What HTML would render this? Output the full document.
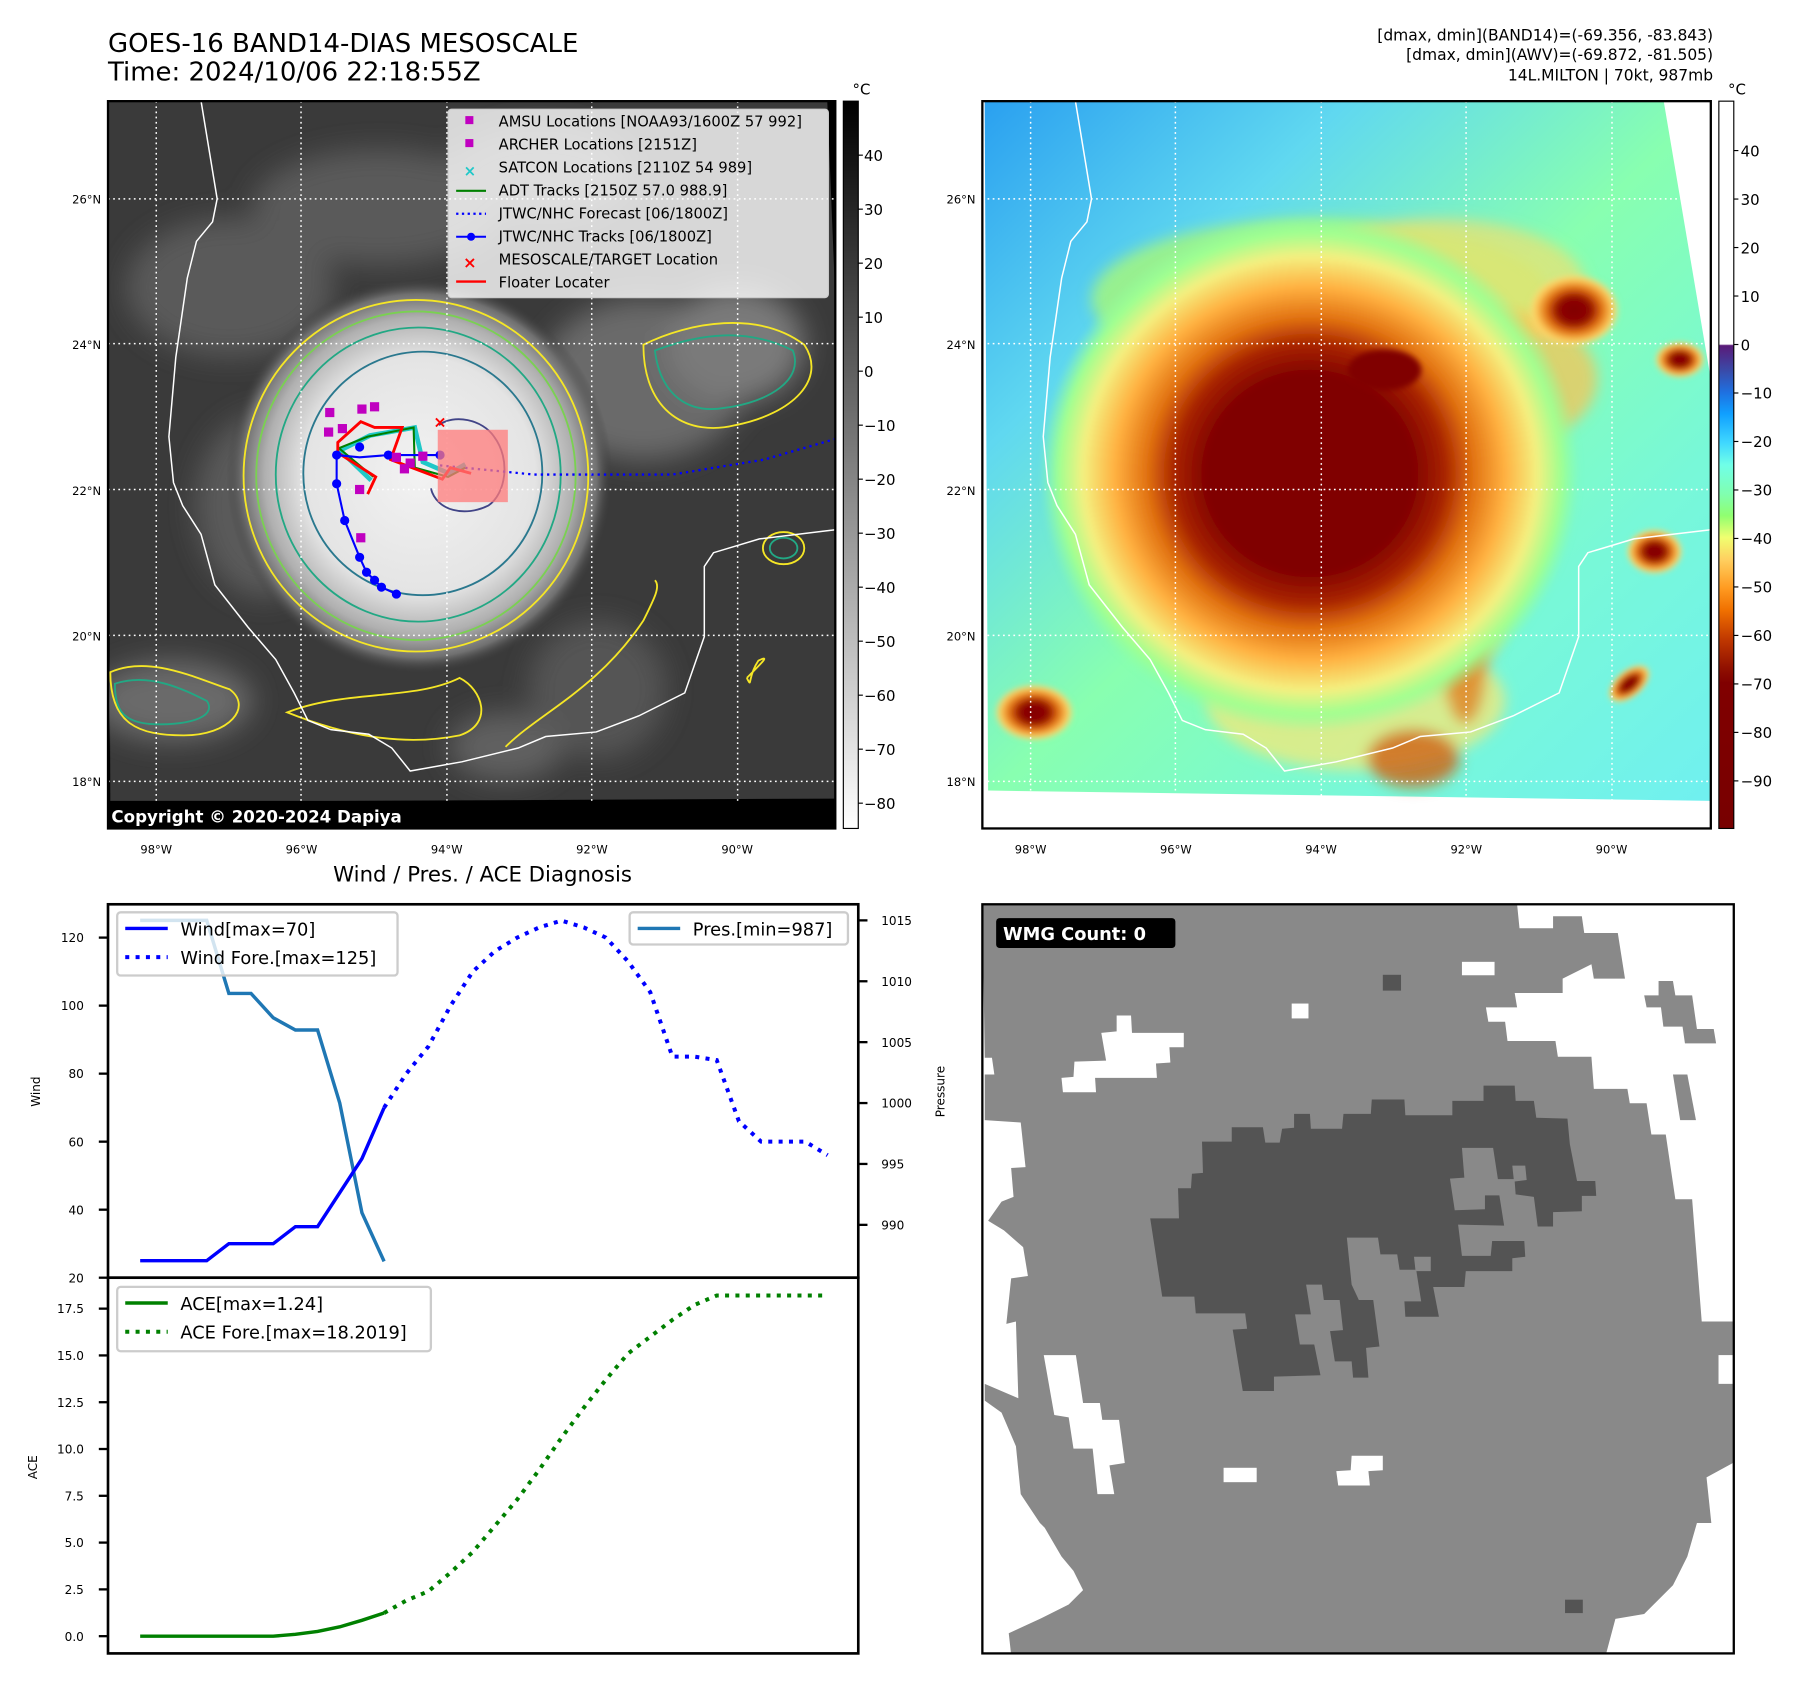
<!DOCTYPE html>
<html><head><meta charset="utf-8"><title>GOES-16 BAND14 DIAS Mesoscale</title>
<style>
html,body{margin:0;padding:0;background:#fff;}
svg{display:block;font-family:"DejaVu Sans","Liberation Sans",sans-serif;}
</style></head>
<body>
<svg id="root" width="1801" height="1690" viewBox="0 0 1567.5 1470.8" xmlns="http://www.w3.org/2000/svg">
<defs>
  <filter id="blur6" x="-20%" y="-20%" width="140%" height="140%"><feGaussianBlur stdDeviation="6"/></filter>
  <filter id="blur12" x="-30%" y="-30%" width="160%" height="160%"><feGaussianBlur stdDeviation="12"/></filter>
  <filter id="blur3"><feGaussianBlur stdDeviation="2.5"/></filter>
  <radialGradient id="stormGray" cx="0.5" cy="0.5" r="0.5">
    <stop offset="0" stop-color="#f2f2f2"/><stop offset="0.6" stop-color="#e4e4e4"/>
    <stop offset="0.8" stop-color="#b0b0b0"/><stop offset="0.92" stop-color="#707070"/>
    <stop offset="1" stop-color="#3c3c3c" stop-opacity="0"/>
  </radialGradient>
  <radialGradient id="stormColor" cx="0.5" cy="0.5" r="0.5">
    <stop offset="0" stop-color="#800000"/><stop offset="0.38" stop-color="#800000"/>
    <stop offset="0.5" stop-color="#a82400"/><stop offset="0.6" stop-color="#e07010"/>
    <stop offset="0.72" stop-color="#ffb040"/><stop offset="0.84" stop-color="#f4f080"/>
    <stop offset="0.93" stop-color="#a0ff90"/><stop offset="1" stop-color="#90ffa0" stop-opacity="0"/>
  </radialGradient>
  <radialGradient id="blobColor" cx="0.5" cy="0.5" r="0.5">
    <stop offset="0" stop-color="#800000"/><stop offset="0.35" stop-color="#900800"/>
    <stop offset="0.6" stop-color="#e07010"/><stop offset="0.85" stop-color="#ffd060"/>
    <stop offset="1" stop-color="#ffe080" stop-opacity="0"/>
  </radialGradient>
  <linearGradient id="bgColor" x1="0" y1="0" x2="1" y2="1">
    <stop offset="0" stop-color="#2aa0f0"/><stop offset="0.25" stop-color="#60d8f0"/>
    <stop offset="0.5" stop-color="#88ffb0"/><stop offset="0.75" stop-color="#78f8d8"/>
    <stop offset="1" stop-color="#70f0f0"/>
  </linearGradient>
  <linearGradient id="cbGray" x1="0" y1="0" x2="0" y2="1">
    <stop offset="0" stop-color="#000"/><stop offset="1" stop-color="#fff"/>
  </linearGradient>
  <linearGradient id="cbColor" x1="0" y1="0" x2="0" y2="1">
    <stop offset="0" stop-color="#fff"/><stop offset="0.334" stop-color="#fff"/>
    <stop offset="0.336" stop-color="#5a1a78"/><stop offset="0.37" stop-color="#3a4aa8"/>
    <stop offset="0.40" stop-color="#1f70e0"/><stop offset="0.43" stop-color="#10a0ff"/>
    <stop offset="0.47" stop-color="#40d8ff"/><stop offset="0.5" stop-color="#70ffe8"/>
    <stop offset="0.54" stop-color="#80ffb0"/><stop offset="0.57" stop-color="#90ff70"/>
    <stop offset="0.6" stop-color="#f0ff70"/><stop offset="0.63" stop-color="#ffd060"/>
    <stop offset="0.67" stop-color="#ff9a20"/><stop offset="0.7" stop-color="#f07000"/>
    <stop offset="0.74" stop-color="#c03800"/><stop offset="0.78" stop-color="#901000"/>
    <stop offset="0.8" stop-color="#800000"/><stop offset="1" stop-color="#780000"/>
  </linearGradient>
  <clipPath id="clipL"><rect x="94" y="88" width="633" height="633"/></clipPath>
  <clipPath id="clipR"><rect x="855" y="88" width="634" height="633"/></clipPath>
  <clipPath id="clipW"><rect x="855" y="787" width="654" height="652"/></clipPath>
</defs>

<!-- Titles -->
<text x="94" y="45" font-size="22.6">GOES-16 BAND14-DIAS MESOSCALE</text>
<text x="94" y="70" font-size="22.6">Time: 2024/10/06 22:18:55Z</text>
<g font-size="13.5" text-anchor="end">
  <text x="1491" y="35">[dmax, dmin](BAND14)=(-69.356, -83.843)</text>
  <text x="1491" y="52">[dmax, dmin](AWV)=(-69.872, -81.505)</text>
  <text x="1491" y="70">14L.MILTON | 70kt, 987mb</text>
</g>

<!-- LEFT MAP -->
<g clip-path="url(#clipL)">
  <rect x="94" y="88" width="633" height="633" fill="#000"/>
  <polygon points="94,88 720,88 727,260 727,695 96,698" fill="#3a3a3a"/>
  <g filter="url(#blur12)" fill="#5a5a5a">
    <ellipse cx="200" cy="250" rx="90" ry="60"/><ellipse cx="330" cy="180" rx="110" ry="50"/>
    <ellipse cx="560" cy="330" rx="90" ry="70" fill="#6a6a6a"/><ellipse cx="640" cy="300" rx="60" ry="50" fill="#7a7a7a"/>
    <ellipse cx="150" cy="610" rx="70" ry="35" fill="#6a6a6a"/><ellipse cx="520" cy="600" rx="60" ry="60" fill="#555"/>
    <ellipse cx="470" cy="150" rx="80" ry="40"/><ellipse cx="230" cy="440" rx="60" ry="80"/>
    <ellipse cx="440" cy="650" rx="50" ry="30" fill="#606060"/>
  </g>
  <ellipse cx="365" cy="414" rx="168" ry="172" fill="url(#stormGray)"/>
  <!-- contours -->
  <g fill="none" stroke-width="1.6">
    <ellipse cx="362" cy="414" rx="150" ry="153" stroke="#f5e626"/>
    <ellipse cx="362" cy="414" rx="139" ry="143" stroke="#7ad151"/>
    <ellipse cx="364" cy="413" rx="124" ry="128" stroke="#22a884"/>
    <ellipse cx="368" cy="412" rx="104" ry="106" stroke="#2a788e"/>
    <path d="M382,370 C395,360 420,365 430,380 C445,400 440,430 425,440 C405,450 380,445 375,425" stroke="#414487"/>
    <path d="M560,300 C600,280 660,270 700,300 C720,330 690,360 640,370 C600,380 560,360 560,300Z" stroke="#f5e626"/>
    <path d="M570,305 C610,290 650,285 690,305 C700,330 670,350 630,355 C600,360 575,345 570,305Z" stroke="#22a884"/>
    <path d="M96,585 C130,570 170,590 200,600 C220,615 200,640 160,640 C120,640 96,630 96,585Z" stroke="#f5e626"/>
    <path d="M100,595 C130,585 160,600 180,610 C190,625 160,632 130,630 C105,628 100,615 100,595Z" stroke="#22a884"/>
    <ellipse cx="682" cy="477" rx="18" ry="14" stroke="#f5e626"/>
    <ellipse cx="682" cy="477" rx="12" ry="9" stroke="#22a884"/>
    <path d="M440,650 C470,620 520,600 560,540 C570,520 575,510 570,505" stroke="#f5e626"/>
    <path d="M650,590 C665,575 670,570 660,575 C650,590 655,600 650,590" stroke="#f5e626"/>
    <path d="M250,620 C300,600 360,610 400,590 C420,600 430,630 400,640 C350,650 300,640 250,620Z" stroke="#f5e626"/>
  </g>
  <!-- grid -->
  <g stroke="#fff" stroke-width="1.3" stroke-dasharray="1.5 3">
    <line x1="136" y1="88" x2="136" y2="721"/><line x1="262" y1="88" x2="262" y2="721"/>
    <line x1="389" y1="88" x2="389" y2="721"/><line x1="515" y1="88" x2="515" y2="721"/>
    <line x1="642" y1="88" x2="642" y2="721"/>
    <line x1="94" y1="173" x2="727" y2="173"/><line x1="94" y1="299" x2="727" y2="299"/>
    <line x1="94" y1="426" x2="727" y2="426"/><line x1="94" y1="553" x2="727" y2="553"/>
    <line x1="94" y1="680" x2="727" y2="680"/>
  </g>
  <polyline fill="none" stroke="#fff" stroke-width="1.3" points="175,88 189,173 185,193 171,210 163,242 153,311 147,380 151,420 159,440 175,465 187,509 216,546 240,574 256,603 268,627 288,635 321,639 341,651 357,671 402,663 451,651 475,641 519,637 556,623 596,603 613,554 613,493 621,481 661,469 727,461"/>
  <!-- tracks -->
  <polyline fill="none" stroke="#0000ff" stroke-width="2" stroke-dasharray="2 3.5" points="383,405 465,413 585,413 665,400 727,382"/>
  <polyline fill="none" stroke="#20c8c8" stroke-width="4" points="323,418 296,392 322,379 361,372 368,402 391,412 405,404"/>
  <polyline fill="none" stroke="#008000" stroke-width="1.8" points="325,415 295,390 320,380 360,372 361,407 390,415 405,407"/>
  <polyline fill="none" stroke="#ff0000" stroke-width="2.5" points="320,430 327,415 294,394 294,385 314,367 326,372 350,372 340,400 385,417 392,407 410,412"/>
  <g fill="#0000ff" stroke="#0000ff">
    <polyline fill="none" stroke-width="1.8" points="345,517 332,511 326,505 319,498 313,485 300,453 293,421 293,396 313,398 338,396 383,396"/>
    <circle cx="345" cy="517" r="3.5"/><circle cx="332" cy="511" r="3.5"/><circle cx="326" cy="505" r="3.5"/>
    <circle cx="319" cy="498" r="3.5"/><circle cx="313" cy="485" r="3.5"/><circle cx="300" cy="453" r="3.5"/>
    <circle cx="293" cy="421" r="3.5"/><circle cx="293" cy="396" r="3.5"/><circle cx="313" cy="389" r="3.5"/>
    <circle cx="338" cy="396" r="3.5"/><circle cx="383" cy="396" r="3.5"/>
  </g>
  <g fill="#c000c0">
    <rect x="283" y="355" width="8" height="8"/><rect x="282" y="372" width="8" height="8"/>
    <rect x="294" y="369" width="8" height="8"/><rect x="311" y="352" width="8" height="8"/>
    <rect x="322" y="350" width="8" height="8"/><rect x="309" y="422" width="8" height="8"/>
    <rect x="310" y="464" width="8" height="8"/><rect x="348" y="404" width="8" height="8"/>
    <rect x="353" y="399" width="8" height="8"/><rect x="364" y="393" width="8" height="8"/>
    <rect x="341" y="394" width="8" height="8"/>
  </g>
  <rect x="381" y="374" width="61" height="63" fill="#ff7b7b" fill-opacity="0.75"/>
  <text x="383" y="372" font-size="14" fill="#ff0000" text-anchor="middle" font-weight="bold">×</text>
  <!-- legend -->
  <g>
    <rect x="390" y="95" width="331" height="164" rx="3" fill="#fff" fill-opacity="0.8" stroke="#ccc"/>
    <g font-size="12.8">
      <rect x="405" y="101" width="7" height="7" fill="#c000c0"/><text x="434" y="110">AMSU Locations [NOAA93/1600Z 57 992]</text>
      <rect x="405" y="121" width="7" height="7" fill="#c000c0"/><text x="434" y="130">ARCHER Locations [2151Z]</text>
      <text x="409" y="153" fill="#20c8c8" font-size="13" font-weight="bold" text-anchor="middle">×</text><text x="434" y="150">SATCON Locations [2110Z 54 989]</text>
      <line x1="397" y1="166" x2="423" y2="166" stroke="#008000" stroke-width="1.8"/><text x="434" y="170">ADT Tracks [2150Z 57.0 988.9]</text>
      <line x1="397" y1="186" x2="423" y2="186" stroke="#0000ff" stroke-width="2" stroke-dasharray="2 3"/><text x="434" y="190">JTWC/NHC Forecast [06/1800Z]</text>
      <line x1="397" y1="206" x2="423" y2="206" stroke="#0000ff" stroke-width="1.8"/><circle cx="410" cy="206" r="3.5" fill="#0000ff"/><text x="434" y="210">JTWC/NHC Tracks [06/1800Z]</text>
      <text x="409" y="233" fill="#ff0000" font-size="14" font-weight="bold" text-anchor="middle">×</text><text x="434" y="230">MESOSCALE/TARGET Location</text>
      <line x1="397" y1="245" x2="423" y2="245" stroke="#ff0000" stroke-width="2"/><text x="434" y="250">Floater Locater</text>
    </g>
  </g>
  <rect x="94" y="697" width="633" height="24" fill="#000"/>
  <text x="97" y="716" font-size="14.5" font-weight="bold" fill="#fff">Copyright © 2020-2024 Dapiya</text>
</g>
<rect x="94" y="88" width="633" height="633" fill="none" stroke="#000" stroke-width="2"/>

<!-- left colorbar -->
<g>
  <rect x="734" y="88" width="13" height="633" fill="url(#cbGray)" stroke="#000" stroke-width="1"/>
  <text x="742" y="82" font-size="13">°C</text>
  <g id="cbLticks" font-size="13"></g>
</g>

<!-- RIGHT MAP -->
<g clip-path="url(#clipR)">
  <rect x="855" y="88" width="634" height="633" fill="#fff"/>
  <polygon points="857,88 1448,88 1489,330 1489,697 860,688" fill="url(#bgColor)"/>
  <g filter="url(#blur6)">
    <ellipse cx="1150" cy="260" rx="200" ry="70" fill="#a8f878" opacity="0.8"/>
    <ellipse cx="1250" cy="250" rx="130" ry="60" fill="#f0e070" opacity="0.7"/>
    <ellipse cx="1300" cy="330" rx="90" ry="60" fill="#ffc050" opacity="0.7"/>
    <ellipse cx="1180" cy="610" rx="130" ry="60" fill="#f6e878" opacity="0.75"/>
    <ellipse cx="1260" cy="520" rx="50" ry="80" fill="#f0c060" opacity="0.7"/>
    <ellipse cx="1230" cy="660" rx="40" ry="25" fill="#d06010" opacity="0.8"/>
    <ellipse cx="1275" cy="580" rx="18" ry="50" fill="#e08020" opacity="0.8"/>
  </g>
  <ellipse cx="1140" cy="412" rx="235" ry="225" fill="url(#stormColor)" filter="url(#blur3)"/>
  <g filter="url(#blur3)">
    <ellipse cx="1370" cy="270" rx="40" ry="32" fill="url(#blobColor)"/>
    <ellipse cx="1462" cy="313" rx="22" ry="16" fill="url(#blobColor)"/>
    <ellipse cx="1440" cy="480" rx="25" ry="20" fill="url(#blobColor)"/>
    <ellipse cx="900" cy="620" rx="35" ry="25" fill="url(#blobColor)"/>
    <ellipse cx="1418" cy="595" rx="22" ry="12" fill="url(#blobColor)" transform="rotate(-40 1418 595)"/>
    <ellipse cx="1205" cy="322" rx="32" ry="18" fill="#800000"/>
  </g>
  <g stroke="#fff" stroke-width="1.3" stroke-dasharray="1.5 3">
    <line x1="897" y1="88" x2="897" y2="721"/><line x1="1023" y1="88" x2="1023" y2="721"/>
    <line x1="1150" y1="88" x2="1150" y2="721"/><line x1="1276" y1="88" x2="1276" y2="721"/>
    <line x1="1403" y1="88" x2="1403" y2="721"/>
    <line x1="855" y1="173" x2="1489" y2="173"/><line x1="855" y1="299" x2="1489" y2="299"/>
    <line x1="855" y1="426" x2="1489" y2="426"/><line x1="855" y1="553" x2="1489" y2="553"/>
    <line x1="855" y1="680" x2="1489" y2="680"/>
  </g>
  <polyline fill="none" stroke="#fff" stroke-width="1.3" points="936,88 950,173 946,193 932,210 924,242 914,311 908,380 912,420 920,440 936,465 948,509 977,546 1001,574 1017,603 1029,627 1049,635 1082,639 1102,651 1118,671 1163,663 1212,651 1236,641 1280,637 1317,623 1357,603 1374,554 1374,493 1382,481 1422,469 1489,461"/>
</g>
<rect x="855" y="88" width="634" height="633" fill="none" stroke="#000" stroke-width="2"/>
<g>
  <rect x="1496" y="88" width="13" height="633" fill="url(#cbColor)" stroke="#000" stroke-width="1"/>
  <text x="1504" y="82" font-size="13">°C</text>
  <g id="cbRticks" font-size="13"></g>
</g>
<g id="mapLabels" font-size="10.5"></g>

<!-- WMG -->
<g clip-path="url(#clipW)">
  <rect x="855" y="787" width="654" height="652" fill="#fff"/>
  <g transform="translate(855,787) scale(0.4174)">
    <polygon fill="#898989" points="0,0 1115,0 1120,50 1190,50 1190,25 1250,25 1255,60 1325,60 1340,155 1275,155 1270,125 1210,155 1210,185 1110,185 1115,215 1050,215 1055,245 1090,245 1095,285 1195,285 1200,318 1270,318 1275,385 1345,385 1350,415 1385,415 1395,480 1425,480 1445,615 1480,615 1500,870 1565,870 1565,1165 1510,1195 1520,1290 1490,1290 1470,1360 1440,1420 1410,1450 1380,1480 1320,1490 1300,1565 60,1565 55,1520 120,1490 180,1460 210,1430 190,1390 165,1360 130,1300 120,1290 80,1230 70,1130 40,1060 5,1035 5,1000 75,1030 70,870 50,875 60,780 95,775 85,715 45,680 12,660 40,620 65,610 60,550 90,548 80,455 5,450 5,355 25,355 20,320 5,320 0,0"/>
    <polygon fill="#898989" points="1380,190 1410,190 1410,160 1440,160 1445,190 1480,190 1490,260 1525,260 1530,290 1465,290 1460,255 1420,255 1415,215 1385,215"/>
    <polygon fill="#898989" points="1440,355 1470,355 1488,450 1455,450"/>
    <g fill="#fff">
      <rect x="1000" y="120" width="68" height="28"/><rect x="645" y="207" width="35" height="31"/>
      <polygon points="280,232 310,232 312,268 420,268 420,298 390,298 392,330 362,332 364,362 235,362 237,392 168,392 165,362 190,360 192,328 258,326 248,268 280,265"/>
      <polygon points="128,940 195,940 210,1040 245,1040 250,1075 285,1075 297,1165 265,1170 275,1230 240,1230 230,1135 190,1135 180,1070 150,1065"/>
      <rect x="503" y="1175" width="69" height="30"/>
      <polygon points="770,1150 835,1150 835,1180 805,1182 808,1212 742,1212 738,1182 768,1180"/>
      <rect x="1535" y="940" width="30" height="60"/>
    </g>
    <polygon fill="#545454" points="350,655 410,655 408,592 435,592 437,562 460,560 458,495 520,495 520,465 585,465 590,497 620,497 625,468 650,466 650,437 683,437 685,468 750,468 753,437 810,437 812,407 880,407 882,440 980,440 980,410 1045,410 1045,378 1110,378 1112,410 1150,410 1155,445 1220,447 1225,500 1240,577 1278,577 1280,608 1250,608 1250,640 1190,642 1190,672 1158,672 1150,610 1112,605 1110,578 1135,575 1132,545 1105,545 1108,573 1075,573 1065,508 1000,508 1005,570 975,572 985,638 1048,636 1048,607 1078,607 1088,670 992,668 1000,733 1060,733 1063,702 1130,702 1132,735 1105,738 1105,765 1008,765 1005,798 940,798 952,860 882,860 880,828 915,828 905,765 935,765 935,735 900,735 903,762 870,762 865,730 830,730 825,695 760,695 770,793 785,825 815,825 828,922 800,925 805,987 773,987 770,953 735,953 725,890 752,888 745,825 712,825 708,793 675,793 685,855 652,855 662,918 692,918 705,982 608,985 608,1015 543,1015 522,887 552,885 548,853 445,853 442,818 375,818"/>
    <rect x="835" y="147" width="38" height="33" fill="#545454"/>
    <rect x="1215" y="1450" width="37" height="28" fill="#545454"/>
  </g>
  <rect x="867" y="799" width="156" height="26" rx="3" fill="#000"/>
  <text x="873" y="818" font-size="15.5" font-weight="bold" fill="#fff">WMG Count: 0</text>
</g>
<rect x="855" y="787" width="654" height="652" fill="none" stroke="#000" stroke-width="2"/>

<!-- CHART -->
<text x="420" y="767" font-size="18.5" text-anchor="middle">Wind / Pres. / ACE Diagnosis</text>
<g id="chart"></g>

<script>
// ---- chart data ----
var windObs = [25,25,25,25,30,30,30,35,35,45,55,70];
var windFcst = [70,80,88,100,110,116,120,123,125,123,120,113,104,85,85,84,66,60,60,60,56];
var presObs = [1015,1015,1015,1015,1009,1009,1007,1006,1006,1000,991,987];
var aceObs = [0,0,0,0,0,0,0,0.1,0.25,0.5,0.85,1.24];
var aceFcst = [1.24,1.9,2.4,3.4,4.5,5.9,7.3,8.9,10.6,12.2,13.7,15.1,16.0,16.9,17.7,18.2,18.2,18.2,18.2,18.2,18.2];
var windTicks = [20,40,60,80,100,120];
var presTicks = [990,995,1000,1005,1010,1015];
var aceTicks = [0,2.5,5,7.5,10,12.5,15,17.5];
var cbLeftTicks = [40,30,20,10,0,-10,-20,-30,-40,-50,-60,-70,-80];
var cbRightTicks = [40,30,20,10,0,-10,-20,-30,-40,-50,-60,-70,-80,-90];
var latLabels = [26,24,22,20,18];
var lonLabels = [98,96,94,92,90];
var fcstStart = 11;

// ---- axes ----
function xS(k){ return 122 + k*19.3; }
function yWind(v){ return 1112 - (v-20)*2.96; }
function yPres(v){ return 801 + (1015-v)*10.6; }
function yAce(v){ return 1424 - v*16.29; }
function yCbL(v){ return 135 + (40-v)*4.7; }
function yCbR(v){ return 131 + (40-v)*4.22; }
function yLat(v){ return 173 + (26-v)*63.4; }
function xLon(v){ return 136 + (98-v)*63.2; }

var NS='http://www.w3.org/2000/svg';
function mk(tag, attrs, parent){
  var e=document.createElementNS(NS,tag);
  for(var k in attrs) e.setAttribute(k, attrs[k]);
  parent.appendChild(e); return e;
}
function fmt(v){ return (v<0?'\u2212':'')+Math.abs(v); }

var chart=document.getElementById('chart');

var f1=mk('rect',{x:94,y:787,width:653,height:325,fill:'none',stroke:'#000','stroke-width':2.3},chart);


var f2=mk('rect',{x:94,y:1112,width:653,height:327,fill:'none',stroke:'#000','stroke-width':2.3},chart);



function pts(arr, off, yf){ return arr.map(function(v,i){ return xS(i+off).toFixed(1)+','+yf(v).toFixed(1); }).join(' '); }

var pl=mk('polyline',{points:pts(presObs,0,yPres),fill:'none',stroke:'#1f77b4','stroke-width':3},chart);


var wl=mk('polyline',{points:pts(windObs,0,yWind),fill:'none',stroke:'#0000ff','stroke-width':3},chart);


var wf=mk('polyline',{points:pts(windFcst,fcstStart,yWind),fill:'none',stroke:'#0000ff','stroke-width':3.5,'stroke-dasharray':'3.5 5.5'},chart);


var al=mk('polyline',{points:pts(aceObs,0,yAce),fill:'none',stroke:'#008000','stroke-width':3},chart);


var af=mk('polyline',{points:pts(aceFcst,fcstStart,yAce),fill:'none',stroke:'#008000','stroke-width':3.5,'stroke-dasharray':'3.5 5.5'},chart);



function tickLeft(list, yf, name, decimals){
  list.forEach(function(v){
    var y=yf(v);
    mk('line',{x1:86,y1:y,x2:94,y2:y,stroke:'#000','stroke-width':2},chart);
    var t=mk('text',{x:73,y:y+4,'font-size':10.5,'text-anchor':'end'},chart);
    t.textContent = decimals ? v.toFixed(1) : String(v);
    
    
  });
}
tickLeft(windTicks,yWind,'wind-tick-label',false);
tickLeft(aceTicks,yAce,'ace-tick-label',true);
presTicks.forEach(function(v){
  var y=yPres(v);
  mk('line',{x1:747,y1:y,x2:755,y2:y,stroke:'#000','stroke-width':2},chart);
  var t=mk('text',{x:767,y:y+4,'font-size':10.5},chart);
  t.textContent=String(v);
  
  
});
function rotLabel(x,y,txt,name){
  var t=mk('text',{x:x,y:y,'font-size':10.5,'text-anchor':'middle',transform:'rotate(-90 '+x+' '+y+')'},chart);
  t.textContent=txt;
  
  
}
rotLabel(35,950,'Wind','wind-axis-title');
rotLabel(822,950,'Pressure','pressure-axis-title');
rotLabel(32,1277,'ACE','ace-axis-title');

function legend(x,y,w,h,entries,name){
  var g=mk('g',{},chart);
  
  
  mk('rect',{x:x,y:y,width:w,height:h,rx:3,fill:'#fff','fill-opacity':0.8,stroke:'#ccc','stroke-width':2},g);
  entries.forEach(function(e,i){
    var ly=y+14+i*25;
    var a={x1:x+7,y1:ly,x2:x+44,y2:ly,stroke:e.c,'stroke-width':3};
    if(e.d) { a['stroke-dasharray']='3.5 5.5'; a['stroke-width']=3.5; }
    mk('line',a,g);
    var t=mk('text',{x:x+55,y:ly+6,'font-size':15.5},g);
    t.textContent=e.t;
  });
}
legend(102,794,244,55,[{c:'#0000ff',t:'Wind[max=70]'},{c:'#0000ff',d:1,t:'Wind Fore.[max=125]'}],'wind-legend');
legend(548,794,190,28,[{c:'#1f77b4',t:'Pres.[min=987]'}],'pressure-legend');
legend(102,1120,273,56,[{c:'#008000',t:'ACE[max=1.24]'},{c:'#008000',d:1,t:'ACE Fore.[max=18.2019]'}],'ace-legend');

var cbl=document.getElementById('cbLticks');
cbLeftTicks.forEach(function(v){
  var y=yCbL(v);
  mk('line',{x1:747,y1:y,x2:751,y2:y,stroke:'#000'},cbl);
  var t=mk('text',{x:752,y:y+5},cbl); t.textContent=fmt(v);
  
  
});
var cbr=document.getElementById('cbRticks');
cbRightTicks.forEach(function(v){
  var y=yCbR(v);
  mk('line',{x1:1509,y1:y,x2:1513,y2:y,stroke:'#000'},cbr);
  var t=mk('text',{x:1515,y:y+5},cbr); t.textContent=fmt(v);
  
  
});
var ml=document.getElementById('mapLabels');
[0,761].forEach(function(dx){
  latLabels.forEach(function(v){
    var t=mk('text',{x:88+dx,y:yLat(v)+4,'text-anchor':'end','font-size':10},ml);
    t.textContent=v+'\u00B0N';
    
    
  });
  lonLabels.forEach(function(v){
    var t=mk('text',{x:xLon(v)+dx,y:743,'text-anchor':'middle','font-size':10},ml);
    t.textContent=v+'\u00B0W';
    
    
  });
});
</script>
</svg>
</body></html>
